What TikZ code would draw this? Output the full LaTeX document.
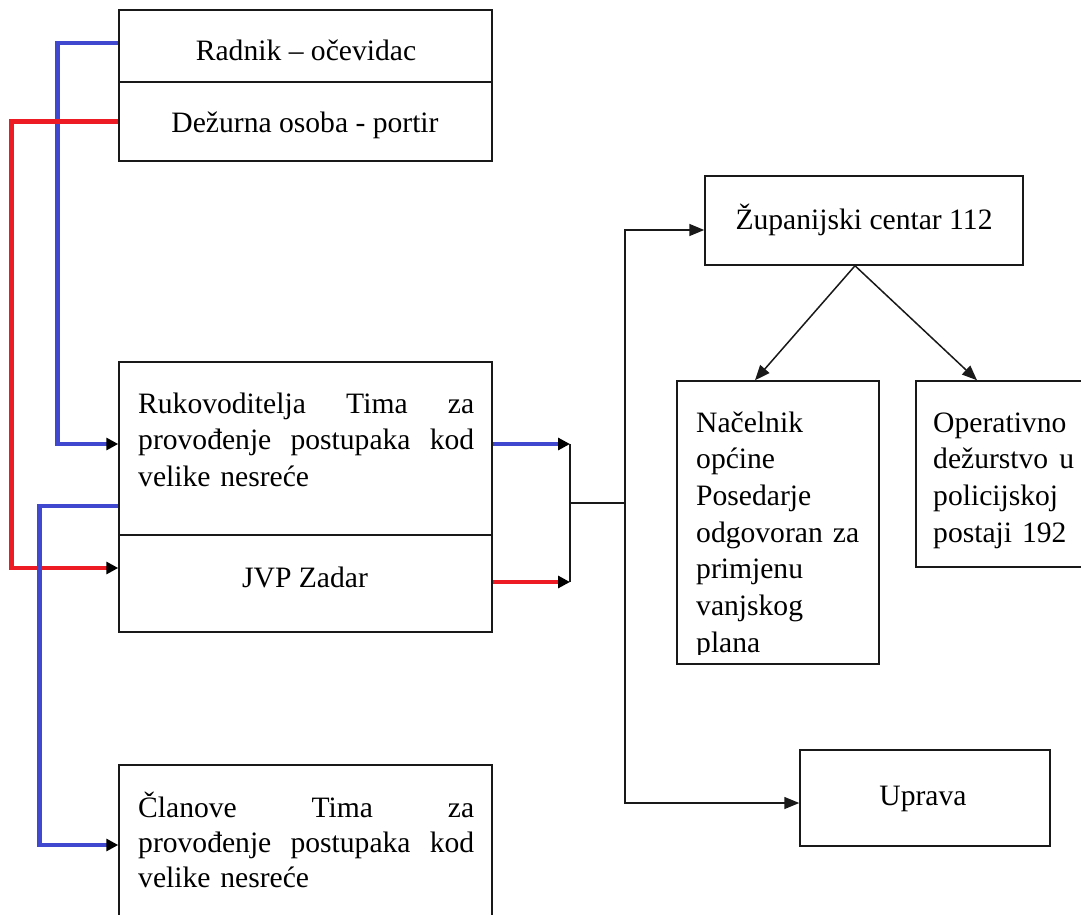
\documentclass[tikz,border=0pt]{standalone}
\usepackage{fontspec}
\setmainfont{Liberation Serif}
\usetikzlibrary{arrows.meta}
\definecolor{lblue}{HTML}{4048D0}
\definecolor{lred}{HTML}{ED1C24}
\begin{document}
\begin{tikzpicture}[x=1pt,y=-1pt,
  font=\fontsize{29.6}{36.7}\selectfont,
  box/.style={draw=black!90, line width=1.5pt, inner sep=0pt},
  txt/.style={inner sep=0pt, anchor=base},
  para/.style={inner sep=0pt, text width=#1, anchor=base west, align=left},
  bl/.style={draw=lblue, line width=4.5pt, line join=miter, -{Triangle[color=black,length=12pt,width=12pt]}},
  rd/.style={draw=lred, line width=4.5pt, line join=miter, -{Triangle[color=black,length=12pt,width=12pt]}},
  conn/.style={draw=black!90, line width=1.5pt},
  tip/.style={-{Triangle[length=15pt,width=12pt]}}]
\useasboundingbox (0,0) rectangle (1081,915);
\clip (0,0) rectangle (1081,915);
\fill[white] (0,0) rectangle (1081,915);

% boxes
\node[box, minimum width=373pt, minimum height=72pt]  (A) at (305.5,46) {};
\node[box, minimum width=373pt, minimum height=79pt]  (B) at (305.5,121.5) {};
\node[box, minimum width=373pt, minimum height=173pt] (C) at (305.5,448.5) {};
\node[box, minimum width=373pt, minimum height=97pt]  (D) at (305.5,583.5) {};
\node[box, minimum width=373pt, minimum height=160pt] (E) at (305.5,845) {};
\node[box, minimum width=318pt, minimum height=89pt]  (Z) at (864,220.5) {};
\node[box, minimum width=202pt, minimum height=283pt] (N) at (778,522.5) {};
\node[box, minimum width=174pt, minimum height=186pt] (O) at (1003,474) {};
\node[box, minimum width=250pt, minimum height=96pt]  (U) at (925,798) {};

% texts
\node[txt] (At) at (306,61) {Radnik – očevidac};
\node[txt] (Bt) at (305,132) {Dežurna osoba - portir};
\node[para=336pt] (Ct) at (138,413) {Rukovoditelja\hfill Tima\hfill za\\ provođenje\hfill postupaka\hfill kod\\ velike nesreće};
\node[txt] (Dt) at (305,587) {JVP Zadar};
\node[para=336pt, font=\fontsize{29.6}{35}\selectfont] (Et) at (138,817) {Članove\hfill Tima\hfill za\\ provođenje\hfill postupaka\hfill kod\\ velike nesreće};
\node[txt] (Zt) at (864,229) {Županijski centar 112};
\begin{scope}
\clip (680,383) rectangle (877,654);
\node[para=163pt] (Nt) at (696,432) {Načelnik\\ općine\\ Posedarje\\ odgovoran\hfill za\\ primjenu\\ vanjskog\\ plana};
\end{scope}
\node[para=141pt] (Ot) at (933,432) {Operativno\\ dežurstvo\hfill u\\ policijskoj\\ postaji 192};
\node[txt] (Ut) at (923,805) {Uprava};

% junction coordinates
\coordinate (J1) at (570,444);
\coordinate (J2) at (570,582);
\coordinate (J) at (570,503);
\coordinate (T) at (625,503);

% coloured connectors
\draw[bl] ([yshift=3pt]A.west) -- ++(-61,0) |- ([yshift=4.5pt]C.west);
\draw[rd] (B.west) -- ++(-107,0) |- ([yshift=15.5pt]D.west);
\draw[bl] ([yshift=30pt]C.south west) -- ++(-79,0) |- (E.west);
\draw[bl] ([yshift=4.5pt]C.east) -- (J1);
\draw[rd] ([yshift=1.5pt]D.east) -- (J2);

% black connectors
\draw[conn] (J1) -- (J2);
\draw[conn] (J) -- (T);
\draw[conn, tip] (T) |- ([yshift=-9.5pt]Z.west);
\draw[conn, tip] (T) |- ([yshift=-5pt]U.west);
\draw[conn, tip] ([xshift=-9pt]Z.south) -- ([xshift=-23pt]N.north);
\draw[conn, tip] ([xshift=-9pt]Z.south) -- ([xshift=-26pt]O.north);
\end{tikzpicture}
\end{document}
